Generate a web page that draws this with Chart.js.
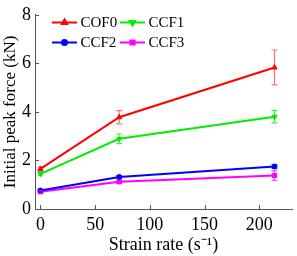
<!DOCTYPE html>
<html><head><meta charset="utf-8">
<script src="https://cdn.jsdelivr.net/npm/chart.js@4/dist/chart.umd.min.js"></script>
<style>html,body{margin:0;padding:0;background:#fff;}#wrap{width:297px;height:256px;}</style>
</head><body><div id="wrap"><canvas id="c" width="297" height="256"></canvas></div>
<script>
const strainRates = [0, 72, 214];
const seriesNames = ['COF0', 'CCF1', 'CCF2', 'CCF3'];
const COF0 = [1.65, 3.78, 5.83];
const CCF1 = [1.45, 2.89, 3.80];
const CCF2 = [0.76, 1.32, 1.75];
const CCF3 = [0.71, 1.12, 1.38];
const COF0_err = [0.08, 0.27, 0.72];
const CCF1_err = [0.08, 0.20, 0.25];
const CCF2_err = [0.05, 0.06, 0.08];
const CCF3_err = [0.05, 0.06, 0.20];
const yTicks = [0, 2, 4, 6, 8];
const xTicks = [0, 50, 100, 150, 200];

const colors = ['#ff0000', '#00ee00', '#0000ff', '#ff00ff'];
const errColors = ['rgba(255,0,0,0.55)', 'rgba(0,220,0,0.7)', 'rgba(0,0,255,0.7)', 'rgba(255,0,255,0.7)'];
const styles = ['triangle', 'triangle', 'circle', 'rect'];
const rotations = [0, 180, 0, 0];
const values = [COF0, CCF1, CCF2, CCF3];
const errs = [COF0_err, CCF1_err, CCF2_err, CCF3_err];
const FONT = "'Liberation Serif', 'Times New Roman', serif";

const datasets = seriesNames.map((n, i) => ({
  label: n,
  data: strainRates.map((x, j) => ({x: x, y: values[i][j]})),
  errors: errs[i],
  errColor: errColors[i],
  borderColor: colors[i],
  backgroundColor: colors[i],
  borderWidth: 2,
  pointStyle: styles[i],
  rotation: rotations[i],
  pointRadius: i === 2 ? 2.5 : 3,
  pointBorderWidth: 1,
  tension: 0
}));

const errorBars = {
  id: 'errorBars',
  afterDatasetsDraw(chart) {
    const ctx = chart.ctx, xs = chart.scales.x, ys = chart.scales.y;
    chart.data.datasets.forEach(ds => {
      ctx.save();
      ctx.strokeStyle = ds.errColor;
      ctx.lineWidth = 1.2;
      ds.data.forEach((p, j) => {
        const e = ds.errors[j];
        const px = xs.getPixelForValue(p.x);
        const top = ys.getPixelForValue(p.y + e), bot = ys.getPixelForValue(p.y - e);
        ctx.beginPath();
        ctx.moveTo(px, top); ctx.lineTo(px, bot);
        ctx.moveTo(px - 3, top); ctx.lineTo(px + 3, top);
        ctx.moveTo(px - 3, bot); ctx.lineTo(px + 3, bot);
        ctx.stroke();
      });
      ctx.restore();
    });
  }
};

const inwardTicks = {
  id: 'inwardTicks',
  afterDraw(chart) {
    const ctx = chart.ctx, xs = chart.scales.x, ys = chart.scales.y, a = chart.chartArea;
    ctx.save();
    ctx.strokeStyle = '#555';
    ctx.lineWidth = 1;
    yTicks.forEach(v => {
      const py = Math.round(ys.getPixelForValue(v)) + 0.5;
      ctx.beginPath(); ctx.moveTo(a.left, py); ctx.lineTo(a.left + 4, py); ctx.stroke();
    });
    xTicks.forEach(v => {
      const px = Math.round(xs.getPixelForValue(v)) + 0.5;
      ctx.beginPath(); ctx.moveTo(px, a.bottom); ctx.lineTo(px, a.bottom - 4); ctx.stroke();
    });
    ctx.restore();
  }
};

const customLegend = {
  id: 'customLegend',
  afterDraw(chart) {
    const ctx = chart.ctx;
    const pos = [[52, 22.5], [120, 22.5], [52, 42.5], [120, 42.5]];
    chart.data.datasets.forEach((ds, i) => {
      const [x, y] = pos[i];
      ctx.save();
      ctx.strokeStyle = ds.borderColor;
      ctx.lineWidth = 2;
      ctx.beginPath(); ctx.moveTo(x, y); ctx.lineTo(x + 25, y); ctx.stroke();
      Chart.helpers.drawPoint(ctx, {pointStyle: ds.pointStyle, rotation: ds.rotation, radius: ds.pointRadius, borderWidth: 1}, x + 12.5, y);
      ctx.fillStyle = ds.backgroundColor;
      ctx.fill();
      ctx.fillStyle = '#000';
      ctx.font = '15px ' + FONT;
      ctx.textBaseline = 'middle';
      ctx.fillText(ds.label, x + 28.5, y + 1);
      ctx.restore();
    });
  }
};

new Chart(document.getElementById('c'), {
  type: 'line',
  data: { datasets: datasets },
  options: {
    responsive: false,
    animation: false,
    layout: { padding: { top: 6, right: 0, left: 0, bottom: 0 } },
    plugins: { legend: { display: false }, tooltip: { enabled: false } },
    scales: {
      x: {
        type: 'linear', min: -5, max: 230,
        afterBuildTicks: s => { s.ticks = xTicks.map(v => ({value: v})); },
        afterFit: s => { s.height = 47; },
        grid: { display: false, drawTicks: false },
        border: { display: true, color: '#555', width: 1 },
        ticks: { color: '#000', font: { family: FONT, size: 18 }, padding: 5, maxRotation: 0 },
        title: { display: true, text: 'Strain rate (s\u207B\u00B9)', color: '#000', font: { family: FONT, size: 18 }, padding: { top: 0, bottom: 0 } }
      },
      y: {
        type: 'linear', min: 0, max: 8,
        afterBuildTicks: s => { s.ticks = yTicks.map(v => ({value: v})); },
        afterFit: s => { s.width = 35; },
        grid: { display: false, drawTicks: false },
        border: { display: true, color: '#555', width: 1 },
        ticks: { color: '#000', font: { family: FONT, size: 18 }, padding: 4 },
        title: { display: true, text: 'Initial peak force (kN)', color: '#000', font: { family: FONT, size: 17 }, padding: 0 }
      }
    }
  },
  plugins: [errorBars, inwardTicks, customLegend]
});
</script></body></html>
